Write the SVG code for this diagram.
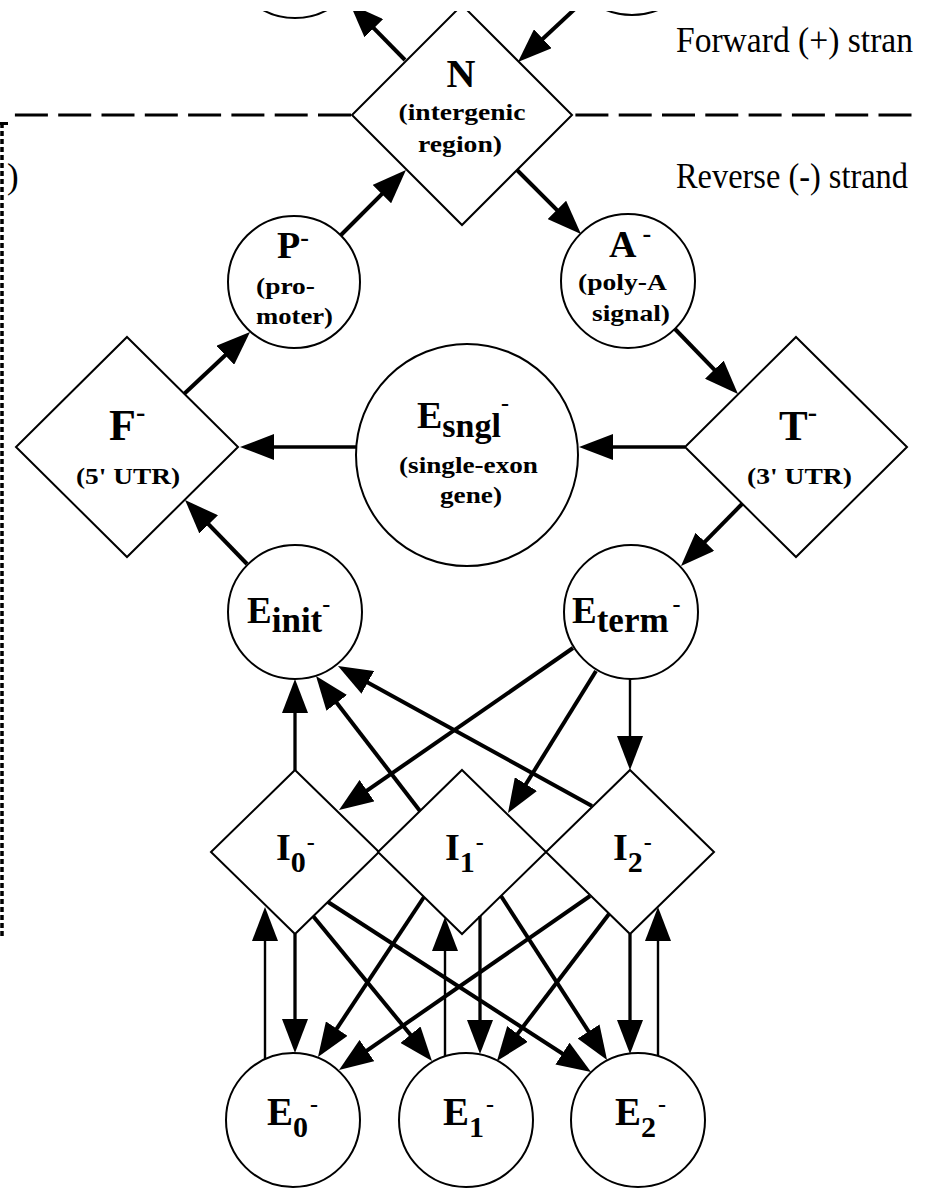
<svg xmlns="http://www.w3.org/2000/svg" width="930" height="1188" viewBox="0 0 930 1188">
<defs>
<clipPath id="clip"><rect x="0" y="11" width="930" height="1177"/></clipPath>
<marker id="ah" markerUnits="userSpaceOnUse" markerWidth="34" markerHeight="26" refX="26" refY="13" orient="auto"><path d="M0,0 L34,13 L0,26 z" fill="#000"/></marker>
</defs>
<style>
.node{fill:#fff;stroke:#000;stroke-width:2}
.c{stroke:#000;stroke-width:4;fill:none;marker-end:url(#ah)}
.m{stroke-width:3.3}
.t{stroke-width:2.4}
.lbl{font-family:"Liberation Serif","Times New Roman",serif;font-weight:bold;fill:#000}
.cap{font-size:23px}
.strand{font-family:"Liberation Serif","Times New Roman",serif;font-size:35px;fill:#000}
.dash{stroke:#000;fill:none}
</style>
<rect width="930" height="1188" fill="#fff"/>
<g clip-path="url(#clip)">
<g id="separators">
<line class="dash" x1="14.9" y1="115" x2="351" y2="115" stroke-width="3.2" stroke-dasharray="33 10.3"/>
<line class="dash" x1="575.4" y1="115" x2="912" y2="115" stroke-width="3.2" stroke-dasharray="33 10.3"/>
<line class="dash" x1="2" y1="123" x2="2" y2="936" stroke-width="3.5" stroke-dasharray="5 3"/>
<line class="dash" x1="0" y1="123.5" x2="8" y2="123.5" stroke-width="3"/>
</g>
<text class="strand" x="676" y="52" textLength="237" lengthAdjust="spacingAndGlyphs">Forward (+) stran</text>
<text class="strand" x="676" y="188" textLength="232" lengthAdjust="spacingAndGlyphs">Reverse (-) strand</text>
<text class="strand" x="7" y="188">)</text>

<g id="Pplus"><circle class="node" cx="295" cy="-49" r="67"/></g>
<g id="Aplus"><circle class="node" cx="632" cy="-52" r="67"/></g>

<g id="N">
<polygon class="node" points="462,5 572,115 462,225 352,115"/>
<text class="lbl" x="461" y="87" font-size="40" text-anchor="middle">N</text>
<text class="lbl cap" x="462" y="120" text-anchor="middle" textLength="127" lengthAdjust="spacingAndGlyphs">(intergenic</text>
<text class="lbl cap" x="460" y="152" text-anchor="middle" textLength="84" lengthAdjust="spacingAndGlyphs">region)</text>
</g>

<g id="P">
<circle class="node" cx="294" cy="282" r="66"/>
<text class="lbl" x="277" y="258" font-size="38">P<tspan font-size="26" dy="-12">-</tspan></text>
<text class="lbl cap" x="285.5" y="294" text-anchor="middle" textLength="59" lengthAdjust="spacingAndGlyphs">(pro-</text>
<text class="lbl cap" x="294.5" y="324" text-anchor="middle" textLength="77" lengthAdjust="spacingAndGlyphs">moter)</text>
</g>

<g id="A">
<circle class="node" cx="628" cy="281" r="67"/>
<text class="lbl" x="609" y="257" font-size="38">A<tspan font-size="26" dx="6" dy="-15">-</tspan></text>
<text class="lbl cap" x="622.5" y="290" text-anchor="middle" textLength="89" lengthAdjust="spacingAndGlyphs">(poly-A</text>
<text class="lbl cap" x="631" y="321" text-anchor="middle" textLength="78" lengthAdjust="spacingAndGlyphs">signal)</text>
</g>

<g id="F">
<polygon class="node" points="127,337 238,447 127,557 16,447"/>
<text class="lbl" x="109" y="440" font-size="44">F<tspan font-size="28" dy="-19">-</tspan></text>
<text class="lbl cap" x="128" y="484" text-anchor="middle" textLength="104" lengthAdjust="spacingAndGlyphs">(5' UTR)</text>
</g>

<g id="T">
<polygon class="node" points="796,337 907,447 796,557 685,447"/>
<text class="lbl" x="779" y="440" font-size="43">T<tspan font-size="28" dy="-19">-</tspan></text>
<text class="lbl cap" x="799.5" y="484" text-anchor="middle" textLength="105" lengthAdjust="spacingAndGlyphs">(3' UTR)</text>
</g>

<g id="Esngl">
<circle class="node" cx="467" cy="455" r="111"/>
<text class="lbl" x="417" y="428" font-size="38">E<tspan font-size="34" dy="9">sngl</tspan><tspan font-size="24" dy="-26">-</tspan></text>
<text class="lbl cap" x="468.5" y="473" text-anchor="middle" textLength="139" lengthAdjust="spacingAndGlyphs">(single-exon</text>
<text class="lbl cap" x="471" y="503" text-anchor="middle" textLength="62" lengthAdjust="spacingAndGlyphs">gene)</text>
</g>

<g id="Einit">
<circle class="node" cx="295" cy="612" r="67"/>
<text class="lbl" x="247" y="623" font-size="37">E<tspan font-size="35" dy="9">init</tspan><tspan font-size="24" dy="-20">-</tspan></text>
</g>

<g id="Eterm">
<circle class="node" cx="631" cy="612" r="67"/>
<text class="lbl" x="572" y="623" font-size="37">E<tspan font-size="35" dy="9">term</tspan><tspan font-size="24" dx="4" dy="-20">-</tspan></text>
</g>

<g id="I0">
<polygon class="node" points="295,770 379,852 295,934 211,852"/>
<text class="lbl" x="276" y="860" font-size="38">I<tspan font-size="30" dy="12">0</tspan><tspan font-size="24" dx="1" dy="-22">-</tspan></text>
</g>
<g id="I1">
<polygon class="node" points="462,770 546,852 462,934 378,852"/>
<text class="lbl" x="445" y="860" font-size="38">I<tspan font-size="30" dy="12">1</tspan><tspan font-size="24" dx="1" dy="-22">-</tspan></text>
</g>
<g id="I2">
<polygon class="node" points="630,770 714,852 630,934 546,852"/>
<text class="lbl" x="613" y="860" font-size="38">I<tspan font-size="30" dy="12">2</tspan><tspan font-size="24" dx="1" dy="-22">-</tspan></text>
</g>

<g id="E0">
<circle class="node" cx="293" cy="1120" r="67"/>
<text class="lbl" x="267" y="1125" font-size="39">E<tspan font-size="30" dy="12">0</tspan><tspan font-size="24" dx="2" dy="-25">-</tspan></text>
</g>
<g id="E1">
<circle class="node" cx="466" cy="1120" r="67"/>
<text class="lbl" x="443" y="1125" font-size="39">E<tspan font-size="30" dy="12">1</tspan><tspan font-size="24" dx="2" dy="-25">-</tspan></text>
</g>
<g id="E2">
<circle class="node" cx="638" cy="1120" r="67"/>
<text class="lbl" x="615" y="1125" font-size="39">E<tspan font-size="30" dy="12">2</tspan><tspan font-size="24" dx="2" dy="-25">-</tspan></text>
</g>

<g id="connectors">
<line class="c" x1="405" y1="60" x2="355.6" y2="9.7"/>
<line class="c" x1="592" y1="-7" x2="523.8" y2="56.5"/>
<line class="c" x1="341" y1="235" x2="400.3" y2="175.7"/>
<line class="c" x1="517" y1="170" x2="575.3" y2="228.3"/>
<line class="c" x1="675" y1="329" x2="732.4" y2="388.3"/>
<line class="c m" x1="685" y1="447" x2="587" y2="447"/>
<line class="c m" x1="356" y1="447" x2="248" y2="447"/>
<line class="c" x1="184" y1="394" x2="244.2" y2="337.5"/>
<line class="c" x1="742" y1="504" x2="686.6" y2="560.3"/>
<line class="c" x1="247" y1="564" x2="190.6" y2="505.7"/>
<line class="c m" x1="295" y1="770" x2="295" y2="687"/>
<line class="c" x1="420" y1="811" x2="320.9" y2="682.3"/>
<line class="c" x1="592" y1="806" x2="345" y2="669.9"/>
<line class="c" x1="573" y1="648" x2="345.6" y2="805.4"/>
<line class="c" x1="596" y1="671" x2="512.2" y2="806.2"/>
<line class="c t" x1="630" y1="679" x2="630" y2="762"/>
<line class="c t" x1="265" y1="1059" x2="265" y2="915"/>
<line class="c m" x1="295" y1="934" x2="295" y2="1045"/>
<line class="c t" x1="445" y1="1056" x2="445" y2="925"/>
<line class="c m" x1="480" y1="916" x2="480" y2="1046"/>
<line class="c m" x1="630" y1="934" x2="630" y2="1046"/>
<line class="c t" x1="658" y1="1056" x2="658" y2="915"/>
<line class="c" x1="313" y1="916" x2="426.9" y2="1054.8"/>
<line class="c" x1="328" y1="902" x2="584.3" y2="1067.7"/>
<line class="c" x1="424" y1="897" x2="322.4" y2="1050.3"/>
<line class="c" x1="501" y1="896" x2="602.7" y2="1053.3"/>
<line class="c" x1="590" y1="896" x2="345.6" y2="1065.4"/>
<line class="c" x1="609" y1="914" x2="501.8" y2="1054.6"/>
</g>
</g>
</svg>
